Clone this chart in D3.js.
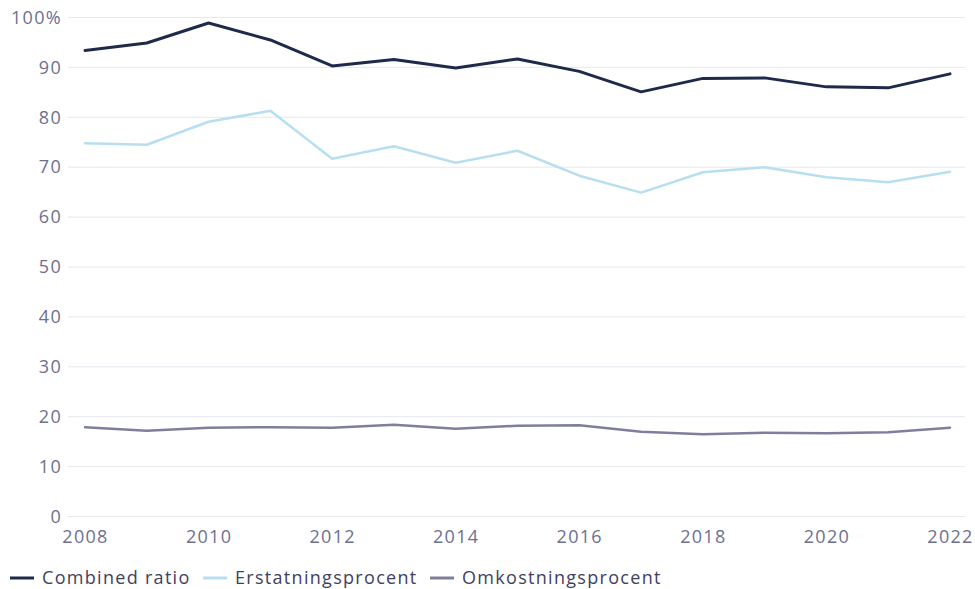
<!DOCTYPE html>
<html>
<head>
<meta charset="utf-8">
<script src="https://cdn.jsdelivr.net/npm/d3@7"></script>
<style>
  html, body { margin: 0; padding: 0; background: #ffffff; }
  svg { display: block; font-family: "Open Sans", sans-serif; }
</style>
</head>
<body>
<svg id="chart" width="975" height="589"></svg>
<script>
const years = [2008, 2009, 2010, 2011, 2012, 2013, 2014, 2015, 2016, 2017, 2018, 2019, 2020, 2021, 2022];
const combinedRatio = [93.4, 94.9, 98.9, 95.5, 90.3, 91.6, 89.9, 91.7, 89.2, 85.1, 87.8, 87.9, 86.1, 85.9, 88.7];
const erstatningsprocent = [74.8, 74.5, 79.1, 81.3, 71.7, 74.2, 70.9, 73.3, 68.3, 64.9, 69.0, 70.0, 68.0, 67.0, 69.1];
const omkostningsprocent = [17.9, 17.2, 17.8, 17.9, 17.8, 18.4, 17.6, 18.2, 18.3, 17.0, 16.5, 16.8, 16.7, 16.9, 17.8];
const yTicks = [0, 10, 20, 30, 40, 50, 60, 70, 80, 90, 100];
const xTicks = [2008, 2010, 2012, 2014, 2016, 2018, 2020, 2022];

const seriesNames = ["Combined ratio", "Erstatningsprocent", "Omkostningsprocent"];
const seriesColors = ["#1f2a4a", "#b8dff1", "#7f7f9d"];
const seriesWidths = [3, 2.5, 2.5];
const seriesValues = [combinedRatio, erstatningsprocent, omkostningsprocent];

const svg = d3.select("#chart");
const gridLeft = 68, gridRight = 965;
const labelFont = 18, labelSpacing = 1.3;

const x = d3.scaleLinear().domain([2008, 2022]).range([85, 950]);
const y = d3.scaleLinear().domain([0, 100]).range([516.5, 17.5]);

// horizontal gridlines
svg.append("g")
  .selectAll("line")
  .data(yTicks)
  .join("line")
  .attr("x1", gridLeft).attr("x2", gridRight)
  .attr("y1", d => y(d)).attr("y2", d => y(d))
  .attr("stroke", "#e7e7ef").attr("stroke-width", 1);

// y axis labels
const yAxis = svg.append("g")
  .attr("transform", `translate(62,0)`)
  .call(d3.axisLeft(y).tickValues(yTicks).tickSize(0).tickPadding(0)
    .tickFormat(d => d === 100 ? "100%" : d));
yAxis.select(".domain").remove();
yAxis.selectAll("text")
  .attr("fill", "#6e7090").attr("font-size", labelFont)
  .attr("letter-spacing", labelSpacing)
  .attr("font-family", "Open Sans, sans-serif");

// x axis labels
const xAxis = svg.append("g")
  .attr("transform", `translate(0,530)`)
  .call(d3.axisBottom(x).tickValues(xTicks).tickSize(0).tickPadding(0).tickFormat(d3.format("d")));
xAxis.select(".domain").remove();
xAxis.selectAll("text")
  .attr("fill", "#6e7090").attr("font-size", labelFont)
  .attr("letter-spacing", labelSpacing)
  .attr("font-family", "Open Sans, sans-serif");

// series lines
const line = d3.line().x((d, i) => x(years[i])).y(d => y(d));
svg.append("g")
  .selectAll("path")
  .data(seriesValues)
  .join("path")
  .attr("d", d => line(d))
  .attr("fill", "none")
  .attr("stroke", (d, i) => seriesColors[i])
  .attr("stroke-width", (d, i) => seriesWidths[i])
  .attr("stroke-linejoin", "round")
  .attr("stroke-linecap", "round");

// legend
const legendX = [10, 203, 430];
const legend = svg.append("g").attr("transform", "translate(0,578)");
const items = legend.selectAll("g")
  .data(seriesNames)
  .join("g")
  .attr("transform", (d, i) => `translate(${legendX[i]},0)`);
items.append("line")
  .attr("x1", 0).attr("x2", 24).attr("y1", 0).attr("y2", 0)
  .attr("stroke", (d, i) => seriesColors[i]).attr("stroke-width", 3);
items.append("text")
  .attr("x", 32).attr("dy", "0.35em")
  .attr("fill", "#3e4163").attr("font-size", labelFont)
  .attr("letter-spacing", labelSpacing)
  .text(d => d);
</script>
</body>
</html>
